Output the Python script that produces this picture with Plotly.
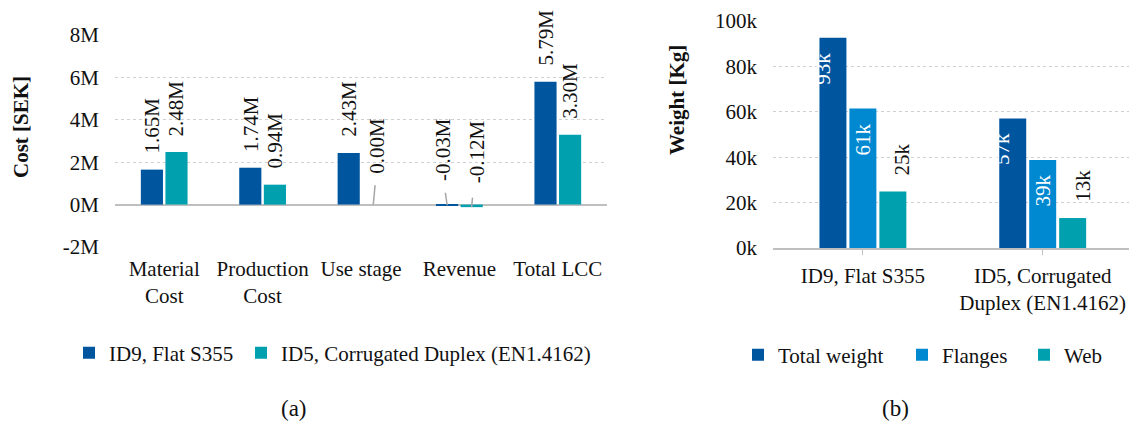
import plotly.graph_objects as go

# ---------------- data ----------------
cost_categories = ["Material<br>Cost", "Production<br>Cost", "Use stage", "Revenue", "Total LCC"]
id9_cost = [1.65e6, 1.74e6, 2.43e6, -0.03e6, 5.79e6]
id5_cost = [2.48e6, 0.94e6, 0.0, -0.12e6, 3.30e6]
cost_series_names = ["ID9, Flat S355", "ID5, Corrugated Duplex (EN1.4162)"]
cost_tick_vals = [-2e6, 0, 2e6, 4e6, 6e6, 8e6]
cost_tick_text = ["-2M", "0M", "2M", "4M", "6M", "8M"]

weight_categories = ["ID9, Flat S355", "ID5, Corrugated<br>Duplex (EN1.4162)"]
total_weight = [92600, 57100]
flanges_weight = [61400, 38800]
web_weight = [24900, 13200]
weight_series_names = ["Total weight", "Flanges", "Web"]
weight_tick_vals = [0, 20000, 40000, 60000, 80000, 100000]
weight_tick_text = ["0k", "20k", "40k", "60k", "80k", "100k"]

# ---------------- style ----------------
W, H = 1129, 422
FONT = "Liberation Serif, Times New Roman, serif"
FS = 21
C_DARK = "#00559F"
C_TEAL = "#00A0AF"
C_LIGHT = "#0088D1"
GRID = "#d0d0d0"
AXIS = "#bfbfbf"
TXT = "#111111"


def px_x(p):
    return p / W


def px_y(p):
    return 1 - p / H


fig = go.Figure()

# ---------- left chart (a) ----------
cost_colors = [C_DARK, C_TEAL]
cost_legends = ["legend", "legend2"]
for name, vals, col, lg in zip(cost_series_names, [id9_cost, id5_cost], cost_colors, cost_legends):
    fig.add_trace(go.Bar(
        x=list(range(len(cost_categories))), y=vals, name=name,
        marker=dict(color=col, line=dict(width=0)),
        xaxis="x", yaxis="y", legend=lg, hoverinfo="skip",
    ))

# ---------- right chart (b) ----------
w_colors = [C_DARK, C_LIGHT, C_TEAL]
w_legends = ["legend3", "legend4", "legend5"]
for name, vals, col, lg in zip(weight_series_names, [total_weight, flanges_weight, web_weight], w_colors, w_legends):
    fig.add_trace(go.Bar(
        x=list(range(len(weight_categories))), y=vals, name=name,
        marker=dict(color=col, line=dict(width=0)),
        xaxis="x2", yaxis="y2", legend=lg, hoverinfo="skip",
    ))

annotations = []

# cost data labels
cost_slot = 24.5
special = {  # (series, category): (label xshift extra, label yshift, arrow ax, arrow ay)
    (1, 2): (3, 29, 2, -21),
    (0, 3): (-4, 22, -2, -14),
    (1, 3): (5, 22, 1, -11),
}
for si, vals in enumerate([id9_cost, id5_cost]):
    off = (si - 0.5) * cost_slot
    for ci, v in enumerate(vals):
        label = f"{v / 1e6:.2f}M"
        if (si, ci) in special:
            dx, ys, ax, ay = special[(si, ci)]
            annotations.append(dict(
                x=ci, y=v, xref="x", yref="y", text=label, showarrow=False,
                textangle=-90, xanchor="center", yanchor="bottom",
                xshift=off + dx, yshift=ys, font=dict(family=FONT, size=FS, color=TXT)))
            annotations.append(dict(
                x=ci, y=v, xref="x", yref="y", text="",
                showarrow=True, arrowhead=0, arrowwidth=1.5, arrowcolor="#a6a6a6",
                ax=ax, ay=ay, xshift=off, yshift=0, standoff=0, startstandoff=0))
        else:
            annotations.append(dict(
                x=ci, y=v, xref="x", yref="y", text=label, showarrow=False,
                textangle=-90, xanchor="center", yanchor="bottom",
                xshift=off, yshift=14, font=dict(family=FONT, size=FS, color=TXT)))

# weight data labels
w_slot = 40
for si, vals in enumerate([total_weight, flanges_weight, web_weight]):
    off = (si - 1) * w_slot
    for ci, v in enumerate(vals):
        label = f"{round(v / 1000)}k"
        if si < 2:
            annotations.append(dict(
                x=ci, y=v, xref="x2", yref="y2", text=label, showarrow=False,
                textangle=-90, xanchor="center", yanchor="top",
                xshift=off, yshift=-13, font=dict(family=FONT, size=FS, color="white")))
        else:
            annotations.append(dict(
                x=ci, y=v, xref="x2", yref="y2", text=label, showarrow=False,
                textangle=-90, xanchor="center", yanchor="bottom",
                xshift=off, yshift=14, font=dict(family=FONT, size=FS, color=TXT)))

# axis titles and captions
annotations += [
    dict(x=px_x(21), y=px_y(127), xref="paper", yref="paper", text="<b>Cost [SEK]</b>",
         textangle=-90, showarrow=False, xanchor="center", yanchor="middle",
         font=dict(family=FONT, size=FS, color=TXT)),
    dict(x=px_x(677), y=px_y(100), xref="paper", yref="paper", text="<b>Weight [Kg]</b>",
         textangle=-90, showarrow=False, xanchor="center", yanchor="middle",
         font=dict(family=FONT, size=FS, color=TXT)),
    dict(x=px_x(294), y=px_y(408), xref="paper", yref="paper", text="(a)",
         showarrow=False, xanchor="center", yanchor="middle",
         font=dict(family=FONT, size=23, color=TXT)),
    dict(x=px_x(895), y=px_y(408), xref="paper", yref="paper", text="(b)",
         showarrow=False, xanchor="center", yanchor="middle",
         font=dict(family=FONT, size=23, color=TXT)),
]

legend_style = dict(font=dict(family=FONT, size=FS, color=TXT), bgcolor="rgba(0,0,0,0)",
                    orientation="h", xanchor="left", yanchor="middle", borderwidth=0)
leg_pos = {  # icon centre x (px), y (px)
    "legend": (95, 353), "legend2": (267, 353),
    "legend3": (764, 355), "legend4": (928, 355), "legend5": (1050, 355),
}
legends = {k: dict(legend_style, x=px_x(cx - 26), y=px_y(cy)) for k, (cx, cy) in leg_pos.items()}

fig.update_layout(
    template="none",
    width=W, height=H, autosize=False,
    margin=dict(l=0, r=0, t=0, b=0, autoexpand=False),
    paper_bgcolor="white", plot_bgcolor="white",
    font=dict(family=FONT, size=FS, color=TXT),
    barmode="group", bargap=0.5, bargroupgap=0.1,
    showlegend=True,
    xaxis=dict(domain=[px_x(115), px_x(607)], range=[-0.5, 4.5], automargin=False,
               tickvals=list(range(len(cost_categories))), ticktext=cost_categories,
               showgrid=False, zeroline=False, showline=False, ticks="",
               ticklabelstandoff=7, anchor="y", fixedrange=True),
    yaxis=dict(domain=[px_y(247), px_y(35)], range=[-2e6, 8e6], automargin=False,
               tickvals=cost_tick_vals, ticktext=cost_tick_text,
               showgrid=True, gridcolor=GRID, griddash="dot", gridwidth=1,
               zeroline=True, zerolinecolor=AXIS, zerolinewidth=1.5,
               showline=False, ticks="", ticklabelstandoff=15, anchor="x", fixedrange=True),
    xaxis2=dict(domain=[px_x(773), 1.0], range=[-0.5, 1.48], automargin=False,
                tickvals=list(range(len(weight_categories))), ticktext=weight_categories,
                showgrid=False, zeroline=False, showline=True, linecolor=AXIS, linewidth=1.5,
                ticks="outside", tickson="boundaries", ticklen=5, tickcolor=AXIS,
                ticklabelstandoff=3, anchor="y2", fixedrange=True),
    yaxis2=dict(domain=[px_y(248), px_y(21)], range=[0, 100000], automargin=False,
                tickvals=weight_tick_vals, ticktext=weight_tick_text,
                showgrid=True, gridcolor=GRID, griddash="dot", gridwidth=1,
                zeroline=False, showline=False, ticks="", ticklabelstandoff=15,
                anchor="x2", fixedrange=True),
    annotations=annotations,
    **legends,
)

fig.write_html("out.html", config={"displayModeBar": False},
               post_script="document.body.style.margin='0px';")
